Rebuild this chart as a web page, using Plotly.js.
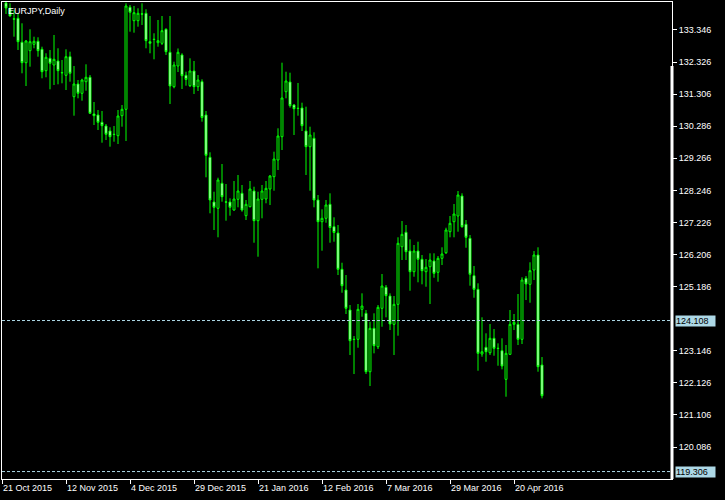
<!DOCTYPE html>
<html>
<head>
<meta charset="utf-8">
<script src="https://cdn.plot.ly/plotly-3.0.1.min.js"></script>
<style>
html,body{margin:0;padding:0;background:#000;}
#chart{width:725px;height:500px;}
</style>
</head>
<body>
<div id="chart"></div>
<script>
// EURJPY daily, bars counted from 21 Oct 2015 (bar 0)
const openP = [134.205,134.036,133.702,133.718,132.955,132.306,132.688,132.891,132.987,132.732,
132.052,132.446,132.233,132.36,131.994,131.905,132.497,131.225,131.629,131.333,
131.702,131.842,130.675,130.643,130.411,130.293,130.134,130.032,129.985,130.621,
130.824,134.068,133.642,133.642,133.861,133.877,132.974,133.053,132.942,132.923,
133.368,132.637,131.543,132.201,132.551,131.905,131.575,132.042,131.543,131.702,
130.643,129.298,127.876,127.676,128.471,127.883,127.876,127.622,127.962,128.153,
127.441,127.727,128.226,127.282,127.962,127.972,128.29,128.681,129.212,129.953,
131.384,131.692,130.961,130.859,130.866,130.134,129.635,129.902,127.94,127.25,
127.358,127.803,127.091,126.891,125.736,125.078,124.442,123.513,123.51,124.464,
124.337,122.48,123.86,123.275,124.496,125.164,124.887,123.987,124.623,126.455,
126.913,126.318,125.66,126.318,126.054,125.66,125.819,126.00,125.641,126.086,
126.264,126.932,127.25,127.431,128.067,127.167,126.722,125.533,125.10,123.043,
123.256,123.084,123.542,123.227,123.148,122.238,123.033,123.987,123.987,123.51,
125.45,125.259,125.714,126.191,122.693];
const highP = [134.236,134.195,133.982,133.877,133.559,133.028,133.368,133.133,133.114,132.815,
132.605,132.71,133.187,132.764,132.392,132.732,132.656,132.201,131.756,131.797,
132.255,131.915,131.056,130.802,130.77,130.357,130.252,130.293,130.802,130.961,
134.195,134.141,134.109,134.036,134.195,134.004,133.791,133.241,133.664,133.791,
133.40,133.791,132.338,132.758,132.605,132.02,132.446,132.36,131.915,131.778,
130.77,129.457,128.204,128.649,129.085,128.449,127.994,128.544,128.735,128.417,
127.94,128.544,128.363,128.204,128.417,128.544,128.735,129.476,130.22,132.306,
132.02,131.988,130.993,131.661,131.034,130.907,130.271,130.093,128.099,127.644,
127.94,128.153,127.39,127.145,125.946,125.555,124.601,123.615,124.633,124.973,
124.442,124.07,124.337,124.601,125.587,125.237,124.973,124.887,126.754,127.272,
127.145,126.69,126.509,126.614,126.191,126.064,126.245,126.245,126.159,126.436,
127.059,127.431,127.813,128.226,128.153,127.304,126.827,125.841,125.291,124.21,
123.701,123.997,123.838,123.383,123.542,123.329,124.442,124.315,124.951,125.482,
125.523,125.959,126.318,126.436,122.947];
const lowP = [133.855,133.769,133.133,132.71,131.969,131.565,132.179,132.764,132.497,131.81,
131.842,131.46,131.597,131.619,131.651,131.438,131.702,130.621,131.174,131.098,
131.416,130.68,130.325,130.166,129.762,129.848,129.635,129.794,129.721,130.271,
129.816,133.292,133.26,133.451,133.505,132.764,132.605,132.414,132.815,132.869,
132.551,130.993,131.492,132.01,131.47,131.575,131.533,131.311,131.406,130.43,
128.662,127.517,126.986,126.754,127.886,127.282,127.441,127.60,127.708,127.568,
127.304,127.708,126.582,126.137,127.358,127.835,127.781,128.236,128.894,129.53,
131.174,130.875,130.007,130.621,130.134,128.735,128.236,127.708,125.768,126.328,
127.218,126.582,126.614,125.555,124.992,124.315,123.011,122.407,123.243,124.229,
122.407,122.025,123.065,123.202,123.911,124.21,123.806,123.011,123.625,126.032,
126.032,125.056,125.501,125.323,125.259,125.183,124.633,125.469,125.342,125.873,
126.223,126.754,126.754,126.932,127.059,126.423,125.215,124.833,122.512,122.957,
122.798,123.011,122.989,122.671,122.556,121.685,123.011,123.806,123.329,123.361,
124.76,124.674,125.396,122.48,121.634];
const closeP = [134.046,133.791,133.689,132.974,132.306,132.996,132.974,132.987,132.688,132.02,
132.478,132.287,132.414,132.052,131.985,132.497,131.969,131.629,131.333,131.756,
131.842,130.697,130.621,130.411,130.303,130.029,129.953,130.023,130.611,130.824,
134.109,133.909,133.896,133.877,133.848,133.006,132.923,133.044,133.006,133.324,
132.656,131.565,132.233,132.637,131.893,131.772,132.042,131.543,131.756,130.563,
129.361,127.94,127.708,128.576,128.045,127.87,127.708,127.972,128.226,127.622,
127.803,128.29,127.282,127.972,128.226,128.312,128.703,129.244,129.975,131.184,
131.724,130.939,130.843,130.85,130.303,129.635,130.007,127.94,127.25,127.358,
127.781,127.065,126.906,125.736,125.215,124.496,123.466,123.504,124.464,124.569,
122.48,123.86,123.307,124.528,125.205,124.897,123.997,124.623,126.563,126.849,
126.296,125.66,126.318,126.054,125.692,125.80,126.032,125.609,126.086,126.223,
126.986,127.199,127.495,128.099,127.091,126.754,125.577,125.10,123.065,123.116,
123.116,123.542,123.224,123.218,122.661,123.065,123.987,124.051,123.51,125.396,
125.269,125.692,126.191,122.639,121.717];

const dateTickBars = [0,16,32,48,64,80,96,112,128];
const dateTickLabels = ["21 Oct 2015","12 Nov 2015","4 Dec 2015","29 Dec 2015","21 Jan 2016","12 Feb 2016","7 Mar 2016","29 Mar 2016","20 Apr 2016"];
const priceTicks = [133.346,132.326,131.306,130.286,129.266,128.246,127.226,126.206,125.186,123.146,122.126,121.106,120.086];
const levelLines = [124.108, 119.306];
const chartTitle = "EURJPY,Daily";

const barIndex = openP.map((_, k) => k + 1);

const lime = "#00ff00";
const lineBlue = "#add8e6";
const font = "Liberation Sans, Arial, sans-serif";

const trace = {
  type: "candlestick",
  x: barIndex, open: openP, high: highP, low: lowP, close: closeP,
  increasing: {line: {color: lime, width: 1}, fillcolor: "#000000"},
  decreasing: {line: {color: lime, width: 1}, fillcolor: "#ffffff"},
  whiskerwidth: 0,
  hoverinfo: "skip",
  showlegend: false
};

const shapes = levelLines.map(v => ({
  type: "line", xref: "paper", x0: 0, x1: 1, yref: "y", y0: v, y1: v,
  line: {color: lineBlue, width: 1, dash: "3px,2px"}, layer: "above"
}));
// thick section of the right frame
shapes.push({type: "line", xref: "paper", x0: 1, x1: 1, yref: "paper", y0: 0, y1: 0.866,
  line: {color: "#ffffff", width: 3}, layer: "above"});

const annotations = levelLines.map(v => ({
  xref: "paper", x: 1, xanchor: "left", xshift: 3,
  yref: "y", y: v, yanchor: "middle",
  text: v.toFixed(3), showarrow: false,
  bgcolor: lineBlue, borderpad: 0, width: 39, height: 10, align: "left",
  font: {family: font, size: 9, color: "#000000"}
}));
annotations.push({
  xref: "paper", x: 0, xanchor: "left", xshift: 4,
  yref: "paper", y: 1, yanchor: "top", yshift: -2,
  text: chartTitle, showarrow: false,
  font: {family: font, size: 9, color: "#ffffff"}
});

const layout = {
  width: 725, height: 500,
  margin: {l: 2, r: 53, t: 2, b: 21, pad: 0},
  paper_bgcolor: "#000000", plot_bgcolor: "#000000",
  boxgap: 0.3,
  showlegend: false,
  xaxis: {
    range: [0, 167.5], fixedrange: true,
    rangeslider: {visible: false},
    tickmode: "array", tickvals: dateTickBars, ticktext: dateTickLabels,
    ticks: "outside", ticklen: 4, tickcolor: "#ffffff", tickwidth: 1,
    ticklabelposition: "outside right",
    showgrid: false, zeroline: false,
    showline: true, linecolor: "#ffffff", linewidth: 1, mirror: true,
    tickfont: {family: font, size: 9, color: "#ffffff"}
  },
  yaxis: {
    side: "right", range: [119.069, 134.236], fixedrange: true,
    tickmode: "array", tickvals: priceTicks, tickformat: ".3f",
    ticks: "outside", ticklen: 4, tickcolor: "#ffffff", tickwidth: 1,
    showgrid: false, zeroline: false,
    showline: true, linecolor: "#ffffff", linewidth: 1, mirror: true,
    tickfont: {family: font, size: 9, color: "#ffffff"}
  },
  shapes: shapes,
  annotations: annotations
};

Plotly.newPlot("chart", [trace], layout, {displayModeBar: false, staticPlot: true});
</script>
</body>
</html>
